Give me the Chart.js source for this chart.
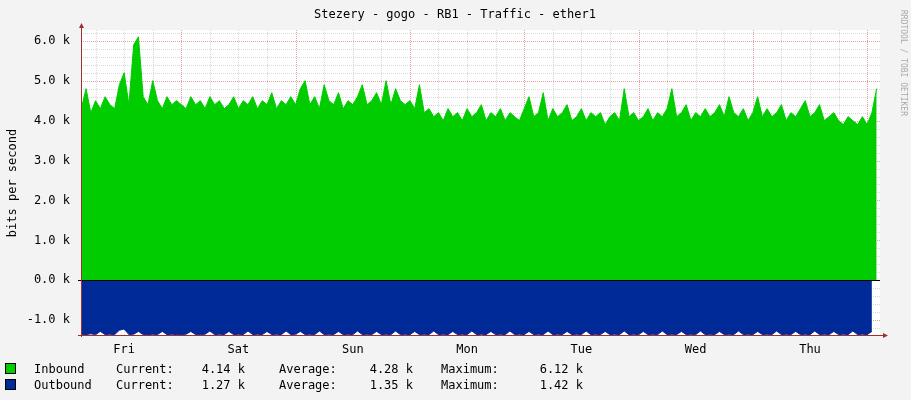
<!DOCTYPE html>
<html><head><meta charset="utf-8">
<script src="https://cdn.jsdelivr.net/npm/chart.js@4/dist/chart.umd.min.js"></script>
<style>html,body{margin:0;background:#f3f3f3}#wrap{width:911px;height:400px}</style>
</head><body><div id="wrap"><canvas id="Chart"></canvas></div>
<script>
// hours since Friday 00:00, one sample per hour (3 .. 170)
const startHour = 3;
const days = ["Fri", "Sat", "Sun", "Mon", "Tue", "Wed", "Thu"];
const yTicks = [-1, 0, 1, 2, 3, 4, 5, 6];
// inbound, k bits/s
const inbound = [
  4.3,4.8,4.2,4.5,4.3,4.6,4.4,4.3,4.9,5.2,4.4,5.9,6.1,4.6,4.4,5.0,4.5,4.3,4.6,4.4,4.5,
  4.4,4.3,4.6,4.4,4.5,4.3,4.6,4.4,4.5,4.3,4.4,4.6,4.3,4.5,4.4,4.6,4.3,4.5,4.4,4.7,4.3,4.5,4.4,4.6,
  4.4,4.8,5.0,4.4,4.6,4.3,4.9,4.5,4.4,4.7,4.3,4.5,4.4,4.6,4.9,4.4,4.5,4.7,4.4,5.0,4.4,4.8,4.5,4.4,
  4.5,4.3,4.9,4.2,4.3,4.1,4.2,4.0,4.3,4.1,4.2,4.0,4.3,4.1,4.2,4.4,4.0,4.2,4.1,4.3,4.0,4.2,4.1,4.0,
  4.3,4.6,4.1,4.2,4.7,4.0,4.3,4.1,4.2,4.4,4.0,4.1,4.3,4.0,4.2,4.1,4.2,3.9,4.1,4.2,4.0,4.8,4.1,4.2,
  4.0,4.1,4.3,4.0,4.2,4.1,4.3,4.8,4.1,4.2,4.4,4.0,4.2,4.1,4.3,4.1,4.2,4.4,4.1,4.6,4.2,4.1,4.3,4.0,
  4.2,4.6,4.1,4.3,4.1,4.2,4.4,4.0,4.2,4.1,4.3,4.5,4.1,4.2,4.4,4.0,4.1,4.2,4.0,3.9,4.1,4.0,3.9,4.1,
  3.9,4.2,4.8
];
// outbound, k bits/s (drawn below zero)
const outbound = [
  1.35,1.36,1.34,1.36,1.28,1.36,1.35,1.36,1.25,1.22,1.36,1.35,1.28,1.36,1.36,1.35,1.36,1.28,1.36,1.35,1.36,
  1.36,1.35,1.28,1.36,1.36,1.35,1.27,1.36,1.35,1.36,1.28,1.36,1.35,1.36,1.27,1.36,1.35,1.36,1.28,1.36,1.35,1.36,1.27,
  1.36,1.35,1.28,1.36,1.35,1.36,1.27,1.36,1.35,1.36,1.28,1.36,1.35,1.36,1.27,1.36,1.35,1.36,1.28,1.36,1.35,1.36,1.27,1.36,
  1.35,1.36,1.28,1.36,1.35,1.36,1.27,1.36,1.35,1.36,1.28,1.36,1.35,1.36,1.27,1.36,1.35,1.36,1.28,1.36,1.35,1.36,1.27,1.36,
  1.35,1.36,1.28,1.36,1.35,1.36,1.27,1.36,1.35,1.36,1.28,1.36,1.35,1.36,1.27,1.36,1.35,1.36,1.28,1.36,1.35,1.36,1.27,1.36,
  1.35,1.36,1.28,1.36,1.35,1.36,1.27,1.36,1.35,1.36,1.28,1.36,1.35,1.36,1.27,1.36,1.35,1.36,1.28,1.36,1.35,1.36,1.27,1.36,
  1.35,1.36,1.28,1.36,1.35,1.36,1.27,1.36,1.35,1.36,1.28,1.36,1.35,1.36,1.27,1.36,1.35,1.36,1.28,1.36,1.35,1.36,1.27,1.36,
  1.35,1.36,1.28
];
const legendRows = [
  ["Inbound", "#00cc00", "4.14 k", "4.28 k", "6.12 k"],
  ["Outbound", "#002a97", "1.27 k", "1.35 k", "1.42 k"]
];

const mono = "'DejaVu Sans Mono', monospace";
const inPts = inbound.map((v, i) => ({x: startHour + i, y: v}));
const outPts = outbound.map((v, i) => ({x: startHour + i, y: -v}));

const rrdPlugin = {
    id: 'rrd',
    beforeDatasetsDraw(chart) {
        const ctx = chart.ctx, a = chart.chartArea, xs = chart.scales.x, ys = chart.scales.y;
        ctx.save();
        ctx.fillStyle = '#fff';
        ctx.fillRect(a.left, a.top, a.right - a.left, a.bottom - a.top);
        ctx.lineWidth = 1;
        ctx.setLineDash([1, 1]);
        ctx.strokeStyle = '#d8d8d8';
        for (let v = -1.2; v < 6.3; v += 0.2) {
            const y = Math.round(ys.getPixelForValue(v)) + 0.5;
            ctx.beginPath(); ctx.moveTo(a.left, y); ctx.lineTo(a.right, y); ctx.stroke();
        }
        for (let h = 6; h < 171; h += 6) {
            const x = Math.round(xs.getPixelForValue(h)) + 0.5;
            ctx.beginPath(); ctx.moveTo(x, a.top); ctx.lineTo(x, a.bottom); ctx.stroke();
        }
        ctx.strokeStyle = '#e8a0a0';
        yTicks.forEach(v => {
            const y = Math.round(ys.getPixelForValue(v)) + 0.5;
            ctx.beginPath(); ctx.moveTo(a.left, y); ctx.lineTo(a.right, y); ctx.stroke();
        });
        for (let h = 24; h < 171; h += 24) {
            const x = Math.round(xs.getPixelForValue(h)) + 0.5;
            ctx.beginPath(); ctx.moveTo(x, a.top); ctx.lineTo(x, a.bottom); ctx.stroke();
        }
        ctx.restore();
    },
    afterDraw(chart) {
        const ctx = chart.ctx, a = chart.chartArea, ys = chart.scales.y;
        ctx.save();
        ctx.fillStyle = '#000';
        ctx.font = '12px ' + mono;
        ctx.textAlign = 'center';
        ctx.fillText('Stezery - gogo - RB1 - Traffic - ether1', 455, 18);
        ctx.save();
        ctx.translate(16, 183); ctx.rotate(-Math.PI / 2);
        ctx.fillText('bits per second', 0, 0);
        ctx.restore();
        ctx.save();
        ctx.fillStyle = '#aaa'; ctx.font = '8px ' + mono;
        ctx.translate(901, 10); ctx.rotate(Math.PI / 2); ctx.textAlign = 'left';
        ctx.fillText('RRDTOOL / TOBI OETIKER', 0, 0);
        ctx.restore();
        // axes
        ctx.strokeStyle = '#000'; ctx.lineWidth = 1;
        const y0 = Math.round(ys.getPixelForValue(0)) + 0.5;
        ctx.beginPath(); ctx.moveTo(a.left - 3, y0); ctx.lineTo(a.right, y0); ctx.stroke();
        ctx.strokeStyle = '#a03030';
        ctx.beginPath(); ctx.moveTo(a.left + 0.5, a.bottom + 2); ctx.lineTo(a.left + 0.5, a.top - 3); ctx.stroke();
        ctx.beginPath(); ctx.moveTo(a.left - 3, a.bottom + 0.5); ctx.lineTo(a.right + 5, a.bottom + 0.5); ctx.stroke();
        ctx.fillStyle = '#a03030';
        ctx.beginPath(); ctx.moveTo(a.left - 2, a.top - 2); ctx.lineTo(a.left + 3, a.top - 2); ctx.lineTo(a.left + 0.5, a.top - 7); ctx.fill();
        ctx.beginPath(); ctx.moveTo(a.right + 3, a.bottom - 2); ctx.lineTo(a.right + 3, a.bottom + 3); ctx.lineTo(a.right + 8, a.bottom + 0.5); ctx.fill();
        // legend
        ctx.font = '12px ' + mono;
        legendRows.forEach((r, i) => {
            const y = 373 + i * 16;
            ctx.fillStyle = r[1]; ctx.fillRect(5, y - 10, 10, 10);
            ctx.strokeStyle = '#000'; ctx.strokeRect(5.5, y - 9.5, 10, 10);
            ctx.fillStyle = '#000';
            ctx.textAlign = 'left';
            ctx.fillText(r[0], 34, y);
            ctx.fillText('Current:', 116, y);
            ctx.fillText('Average:', 279, y);
            ctx.fillText('Maximum:', 441, y);
            ctx.textAlign = 'right';
            ctx.fillText(r[2], 245, y);
            ctx.fillText(r[3], 413, y);
            ctx.fillText(r[4], 583, y);
        });
        ctx.restore();
    }
};

new Chart(document.getElementById('Chart'), {
    type: 'line',
    data: {
        datasets: [
            {label: 'Inbound', data: inPts, fill: 'origin', backgroundColor: '#00cc00', borderColor: '#00cc00', borderWidth: 1, pointRadius: 0, tension: 0},
            {label: 'Outbound', data: outPts, fill: 'origin', backgroundColor: '#002a97', borderColor: '#002a97', borderWidth: 1, pointRadius: 0, tension: 0}
        ]
    },
    options: {
        animation: false,
        responsive: true,
        maintainAspectRatio: false,
        layout: {padding: {left: 0, right: 31, top: 30, bottom: 45}},
        plugins: {legend: {display: false}, tooltip: {enabled: false}},
        scales: {
            x: {
                type: 'linear', min: 2.94, max: 170.7,
                grid: {display: false}, border: {display: false},
                afterBuildTicks: s => { s.ticks = days.map((d, i) => ({value: 12 + i * 24})); },
                afterFit: s => { s.height = 20; },
                ticks: {font: {family: mono, size: 12}, color: '#000', maxRotation: 0, autoSkip: false, padding: 0,
                        callback: v => days[Math.round((v - 12) / 24)]}
            },
            y: {
                min: -1.37, max: 6.27,
                grid: {display: false}, border: {display: false},
                afterBuildTicks: s => { s.ticks = yTicks.map(v => ({value: v})); },
                afterFit: s => { s.width = 81; },
                ticks: {font: {family: mono, size: 12}, color: '#000', callback: v => v.toFixed(1) + ' k'}
            }
        }
    },
    plugins: [rrdPlugin]
});
</script>
</body></html>
